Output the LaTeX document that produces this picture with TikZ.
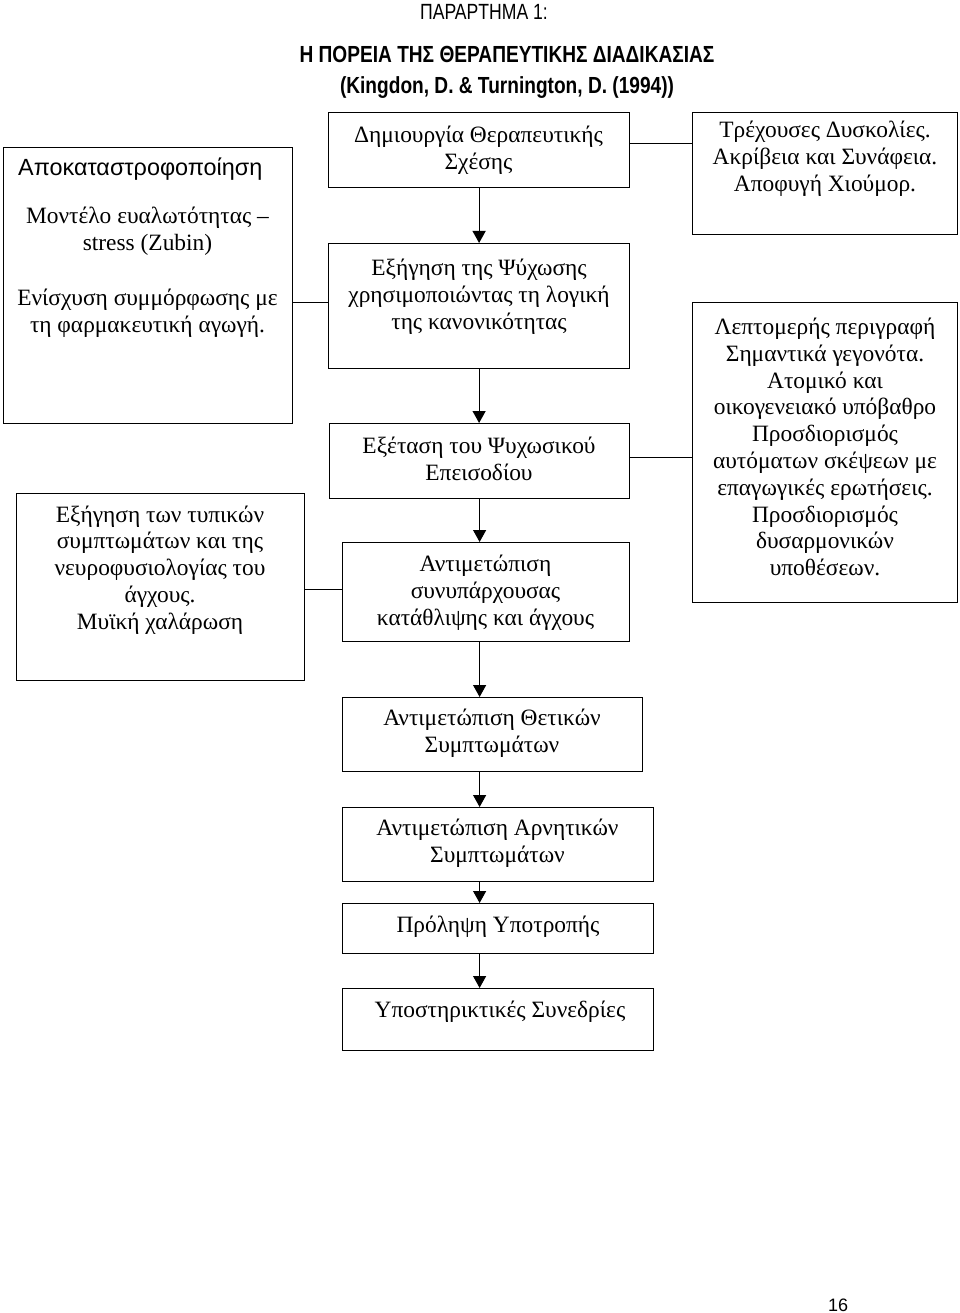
\documentclass[tikz,border=0pt]{standalone}
\usepackage{fontspec}
\setmainfont{Liberation Serif}
\newfontfamily\sansf{Liberation Sans}
\newfontfamily\narrowf[FakeStretch=0.8]{Liberation Sans}
\newfontfamily\narrowbf[FakeStretch=0.82]{Liberation Sans Bold}
\usetikzlibrary{arrows.meta}
\begin{document}
\begin{tikzpicture}[x=1pt,y=-1pt,
  box/.style={draw, line width=1.2pt, inner sep=0pt, anchor=north west},
  txt/.style={align=center, inner sep=0pt, font=\fontsize{23.4}{26.8}\selectfont},
  conn/.style={line width=1.2pt},
  arr/.style={line width=1.2pt, -{Triangle[width=13pt,length=12pt]}},
  ttl/.style={inner sep=0pt, font=\narrowf\fontsize{22}{25}\selectfont},
  ttlb/.style={inner sep=0pt, font=\narrowbf\fontsize{23.3}{26}\selectfont}]
\useasboundingbox (0,0) rectangle (960,1313);
% titles
\node[ttl] (h0) at (484,12) {ΠΑΡΑΡΤΗΜΑ 1:};
\node[ttlb] (h1) at (507,54) {Η ΠΟΡΕΙΑ ΤΗΣ ΘΕΡΑΠΕΥΤΙΚΗΣ ΔΙΑΔΙΚΑΣΙΑΣ};
\node[ttlb] (h2) at (507,88) {(Kingdon, D. \& Turnington, D. (1994))};
% left boxes
\node[box, minimum width=289, minimum height=276] (L1) at (3,147) {};
\node[box, minimum width=288, minimum height=187] (L2) at (16,493) {};
% center boxes
\node[box, minimum width=301, minimum height=75] (b1) at (328,112) {};
\node[box, minimum width=301, minimum height=125] (b2) at (328,243) {};
\node[box, minimum width=300, minimum height=75] (b3) at (329,423) {};
\node[box, minimum width=287, minimum height=99] (b4) at (342,542) {};
\node[box, minimum width=300, minimum height=74] (b5) at (342,697) {};
\node[box, minimum width=311, minimum height=74] (b6) at (342,807) {};
\node[box, minimum width=311, minimum height=50] (b7) at (342,903) {};
\node[box, minimum width=311, minimum height=62] (b8) at (342,988) {};
% right boxes
\node[box, minimum width=265, minimum height=122] (r1) at (692,112) {};
\node[box, minimum width=265, minimum height=300] (r2) at (692,302) {};
% texts
\node[inner sep=0pt, anchor=west, font=\sansf\fontsize{23.4}{26}\selectfont] (tL1a) at (18,169) {Αποκαταστροφοποίηση};
\node[txt] (tL1b) at (147.5,231.5) {Μοντέλο ευαλωτότητας –\\stress (Zubin)};
\node[txt] (tL1c) at (147.5,313.5) {Ενίσχυση συμμόρφωσης με\\τη φαρμακευτική αγωγή.};
\node[txt] (tL2) at (160,570) {Εξήγηση των τυπικών\\συμπτωμάτων και της\\νευροφυσιολογίας του\\άγχους.\\Μυϊκή χαλάρωση};
\node[txt] (tb1) at (478.5,150) {Δημιουργία Θεραπευτικής\\Σχέσης};
\node[txt] (tb2) at (479,296.7) {Εξήγηση της Ψύχωσης\\χρησιμοποιώντας τη λογική\\της κανονικότητας};
\node[txt] (tb3) at (479,458.5) {Εξέταση του Ψυχωσικού\\Επεισοδίου};
\node[txt] (tb4) at (485.5,593) {Αντιμετώπιση\\συνυπάρχουσας\\κατάθλιψης και άγχους};
\node[txt] (tb5) at (492,733.5) {Αντιμετώπιση Θετικών\\Συμπτωμάτων};
\node[txt] (tb6) at (497.5,843.5) {Αντιμετώπιση Αρνητικών\\Συμπτωμάτων};
\node[txt] (tb7) at (498,927) {Πρόληψη Υποτροπής};
\node[txt] (tb8) at (500,1012) {Υποστηρικτικές Συνεδρίες};
\node[txt] (tr1) at (825,159) {Τρέχουσες Δυσκολίες.\\Ακρίβεια και Συνάφεια.\\Αποφυγή Χιούμορ.};
\node[txt] (tr2) at (825,447) {Λεπτομερής περιγραφή\\Σημαντικά γεγονότα.\\Ατομικό και\\οικογενειακό υπόβαθρο\\Προσδιορισμός\\αυτόματων σκέψεων με\\επαγωγικές ερωτήσεις.\\Προσδιορισμός\\δυσαρμονικών\\υποθέσεων.};
\node[inner sep=0pt, font=\sansf\fontsize{18}{22}\selectfont] (pg) at (838,1305) {16};
% horizontal connectors
\draw[conn] ([yshift=6.5pt]b1.east) -- ([yshift=6.5pt]b1.east -| r1.west);
\draw[conn] ([yshift=-17pt]L1.east) -- ([yshift=-17pt]L1.east -| b2.west);
\draw[conn] ([yshift=3.5pt]b3.east) -- ([yshift=3.5pt]b3.east -| r2.west);
\draw[conn] ([yshift=-2.5pt]L2.east) -- ([yshift=-2.5pt]L2.east -| b4.west);
% vertical arrows
\draw[arr] (b1.south) -- (b2.north);
\draw[arr] (b2.south) -- (b2.south |- b3.north);
\draw[arr] (b3.south) -- (b3.south |- b4.north);
\draw[arr] (b4.south -| b3.south) -- (b3.south |- b5.north);
\draw[arr] (b5.south -| b3.south) -- (b3.south |- b6.north);
\draw[arr] (b6.south -| b3.south) -- (b3.south |- b7.north);
\draw[arr] (b7.south -| b3.south) -- (b3.south |- b8.north);
\end{tikzpicture}
\end{document}
